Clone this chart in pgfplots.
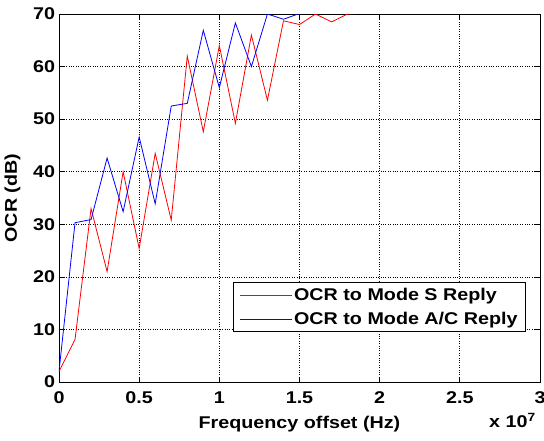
\documentclass[border=0pt]{standalone}
\usepackage{fontspec}
\setmainfont{Liberation Sans}[FakeStretch=1.16]
\usepackage{pgfplots}
\pgfplotsset{compat=1.18}
\begin{document}
\fontsize{17}{20}\selectfont\bfseries
\begin{tikzpicture}
\useasboundingbox (-59pt,-58pt) rectangle (485pt,382pt);
\begin{axis}[
  at={(0pt,0pt)}, anchor=south west,
  scale only axis, width=481pt, height=368pt,
  xmin=0, xmax=3, ymin=0, ymax=70,
  xtick={0,0.5,1,1.5,2,2.5,3},
  ytick={0,10,20,30,40,50,60,70},
  /pgf/number format/assume math mode=true,
  xticklabel style={/pgf/number format/.cd, fixed, precision=1, /tikz/.cd, yshift=-4pt},
  yticklabel style={xshift=2pt},
  grid=major,
  grid style={dotted, black, line width=0.7pt},
  tick align=inside,
  major tick length=5pt,
  tick style={black, line width=0.7pt},
  axis line style={black, line width=0.8pt},
  xlabel={Frequency offset (Hz)},
  ylabel={OCR (dB)},
  xlabel style={at={(axis description cs:0.5,0)}, anchor=center, yshift=-42pt},
  ylabel style={at={(axis description cs:0,0.5)}, anchor=center, yshift=46.5pt},
  legend style={at={(0.971,0.136)}, anchor=south east, draw=black, line width=0.8pt,
    fill=white, inner xsep=6pt, inner ysep=3pt, row sep=5pt},
  legend cell align=left,
  legend image code/.code={\draw[#1, line width=0.8pt] (0pt,0pt) -- (52pt,0pt);},
  clip=true,
]
\addplot[red, line width=0.8pt] coordinates {
(0,2) (0.1,8.1) (0.2,33) (0.3,21) (0.4,40) (0.5,25.4) (0.6,43.5) (0.7,30.8)
(0.8,62) (0.9,47.6) (1.0,64) (1.1,49.2) (1.2,66) (1.3,53.6) (1.4,68.7)
(1.5,68) (1.6,70) (1.7,68.5) (1.8,70) (1.9,70.2) (1.93,70.2)
};
\addlegendentry{OCR to Mode S Reply}
\addplot[blue, line width=0.8pt] coordinates {
(0,2) (0.1,30.3) (0.2,30.9) (0.3,42.6) (0.4,32.4) (0.5,46.6) (0.6,33.9)
(0.7,52.5) (0.8,53) (0.9,66.9) (1.0,56) (1.1,68.3) (1.2,60) (1.3,70)
(1.4,69) (1.5,70.1)
};
\addlegendentry{OCR to Mode A/C Reply}
\end{axis}
\node[anchor=north east, inner sep=0pt] at (477pt,-31pt) {x 10\textsuperscript{7}};
\end{tikzpicture}
\end{document}
